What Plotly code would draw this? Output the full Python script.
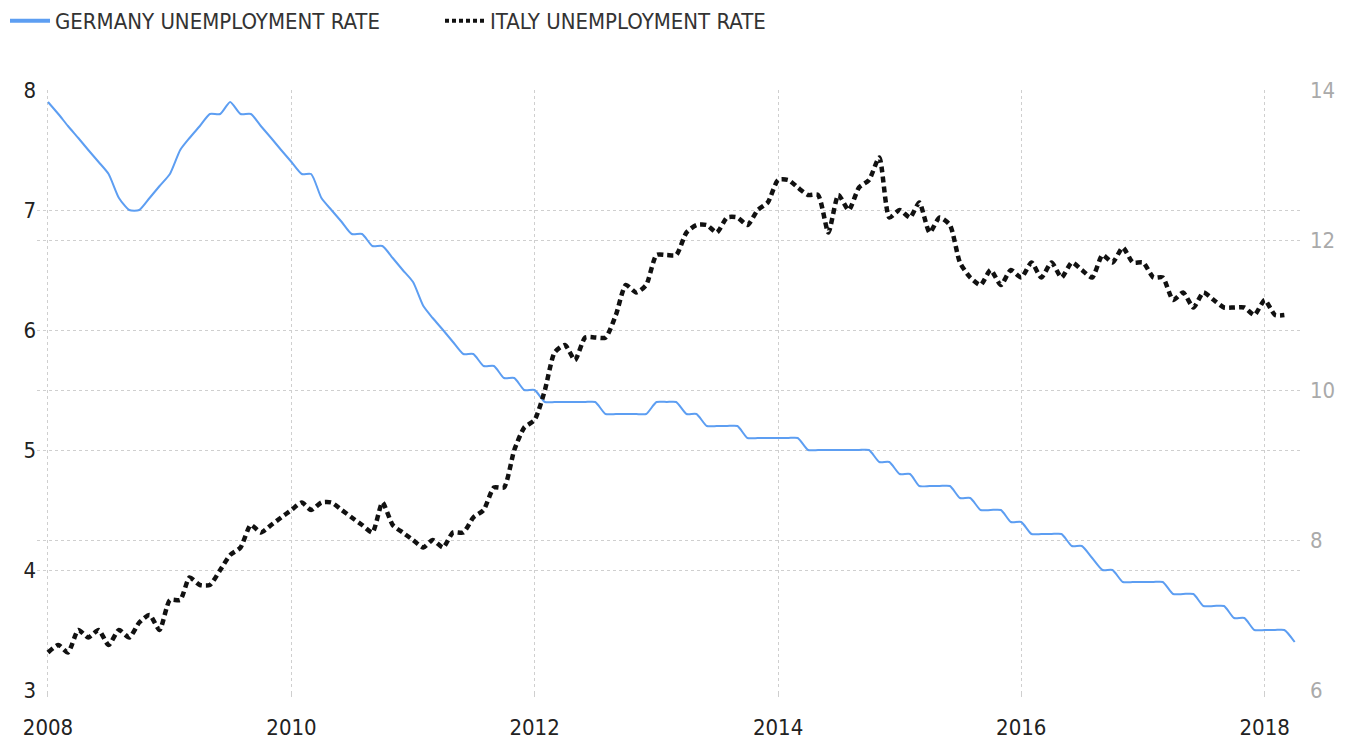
import plotly.graph_objects as go
import pandas as pd

# Germany unemployment rate (%), monthly Jan 2008 - Apr 2018 (left axis)
germany_2008 = [7.9, 7.8, 7.7, 7.6, 7.5, 7.4, 7.3, 7.1, 7.0, 7.0, 7.1, 7.2]
germany_2009 = [7.3, 7.5, 7.6, 7.7, 7.8, 7.8, 7.9, 7.8, 7.8, 7.7, 7.6, 7.5]
germany_2010 = [7.4, 7.3, 7.3, 7.1, 7.0, 6.9, 6.8, 6.8, 6.7, 6.7, 6.6, 6.5]
germany_2011 = [6.4, 6.2, 6.1, 6.0, 5.9, 5.8, 5.8, 5.7, 5.7, 5.6, 5.6, 5.5]
germany_2012 = [5.5, 5.4, 5.4, 5.4, 5.4, 5.4, 5.4, 5.3, 5.3, 5.3, 5.3, 5.3]
germany_2013 = [5.4, 5.4, 5.4, 5.3, 5.3, 5.2, 5.2, 5.2, 5.2, 5.1, 5.1, 5.1]
germany_2014 = [5.1, 5.1, 5.1, 5.0, 5.0, 5.0, 5.0, 5.0, 5.0, 5.0, 4.9, 4.9]
germany_2015 = [4.8, 4.8, 4.7, 4.7, 4.7, 4.7, 4.6, 4.6, 4.5, 4.5, 4.5, 4.4]
germany_2016 = [4.4, 4.3, 4.3, 4.3, 4.3, 4.2, 4.2, 4.1, 4.0, 4.0, 3.9, 3.9]
germany_2017 = [3.9, 3.9, 3.9, 3.8, 3.8, 3.8, 3.7, 3.7, 3.7, 3.6, 3.6, 3.5]
germany_2018 = [3.5, 3.5, 3.5, 3.4]

# Italy unemployment rate (%), monthly Jan 2008 - Mar 2018 (right axis)
italy_2008 = [6.5, 6.6, 6.5, 6.8, 6.7, 6.8, 6.6, 6.8, 6.7, 6.9, 7.0, 6.8]
italy_2009 = [7.2, 7.2, 7.5, 7.4, 7.4, 7.6, 7.8, 7.9, 8.2, 8.1, 8.2, 8.3]
italy_2010 = [8.4, 8.5, 8.4, 8.5, 8.5, 8.4, 8.3, 8.2, 8.1, 8.5, 8.2, 8.1]
italy_2011 = [8.0, 7.9, 8.0, 7.9, 8.1, 8.1, 8.3, 8.4, 8.7, 8.7, 9.2, 9.5]
italy_2012 = [9.6, 10.0, 10.5, 10.6, 10.4, 10.7, 10.7, 10.7, 11.0, 11.4, 11.3, 11.4]
italy_2013 = [11.8, 11.8, 11.8, 12.1, 12.2, 12.2, 12.1, 12.3, 12.3, 12.2, 12.4, 12.5]
italy_2014 = [12.8, 12.8, 12.7, 12.6, 12.6, 12.1, 12.6, 12.4, 12.7, 12.8, 13.1, 12.3]
italy_2015 = [12.4, 12.3, 12.5, 12.1, 12.3, 12.2, 11.7, 11.5, 11.4, 11.6, 11.4, 11.6]
italy_2016 = [11.5, 11.7, 11.5, 11.7, 11.5, 11.7, 11.6, 11.5, 11.8, 11.7, 11.9, 11.7]
italy_2017 = [11.7, 11.5, 11.5, 11.2, 11.3, 11.1, 11.3, 11.2, 11.1, 11.1, 11.1, 11.0]
italy_2018 = [11.2, 11.0, 11.0]

germany = (germany_2008 + germany_2009 + germany_2010 + germany_2011 + germany_2012
           + germany_2013 + germany_2014 + germany_2015 + germany_2016 + germany_2017
           + germany_2018)
italy = (italy_2008 + italy_2009 + italy_2010 + italy_2011 + italy_2012 + italy_2013
         + italy_2014 + italy_2015 + italy_2016 + italy_2017 + italy_2018)

dates_de = pd.date_range("2008-01-01", periods=len(germany), freq="MS")
dates_it = pd.date_range("2008-01-01", periods=len(italy), freq="MS")

FONT = "DejaVu Sans Condensed, Liberation Sans Narrow, Arial Narrow, sans-serif"
BLUE = "#5d9ef2"
GRID = "#cfcfcf"

fig = go.Figure()
fig.add_trace(go.Scatter(
    x=dates_de, y=germany, mode="lines", name="GERMANY UNEMPLOYMENT RATE",
    line=dict(color=BLUE, width=2, shape="spline", smoothing=0.6),
    showlegend=False, yaxis="y"))
fig.add_trace(go.Scatter(
    x=dates_it, y=italy, mode="lines", name="ITALY UNEMPLOYMENT RATE",
    line=dict(color="#111111", width=4.5, dash="6px,4px", shape="spline", smoothing=0.6),
    showlegend=False, yaxis="y2"))
# legend entries
fig.add_trace(go.Scatter(
    x=[None], y=[None], mode="lines", name="GERMANY UNEMPLOYMENT RATE",
    line=dict(color=BLUE, width=4), showlegend=True))
fig.add_trace(go.Scatter(
    x=[None], y=[None], mode="lines", name="ITALY UNEMPLOYMENT RATE",
    line=dict(color="#111111", width=4, dash="4px,3px"), showlegend=True))

fig.update_layout(
    width=1355, height=743,
    margin=dict(l=37, r=52, t=90, b=53, autoexpand=False),
    paper_bgcolor="white", plot_bgcolor="white",
    font=dict(family=FONT, size=22, color="#333333"),
    legend=dict(orientation="h", xref="container", yref="container",
                x=5 / 1355, y=1.0, xanchor="left", yanchor="top",
                itemwidth=40,
                font=dict(family=FONT, size=22, color="#333333"),
                entrywidth=380, bgcolor="rgba(0,0,0,0)"),
    xaxis=dict(type="date", range=["2007-11-29", "2018-04-26"],
               tick0="2008-01-01", dtick="M24", tickformat="%Y",
               showgrid=True, gridcolor=GRID, griddash="dot", gridwidth=1,
               ticks="outside", ticklen=6, tickcolor=GRID,
               ticklabelstandoff=12, automargin=False,
               showline=False, zeroline=False,
               tickfont=dict(family=FONT, size=22, color="#222222")),
    yaxis=dict(range=[3, 8], dtick=1, tick0=3, automargin=False,
               showgrid=True, gridcolor=GRID, griddash="dot", gridwidth=1,
               showline=False, zeroline=False, ticks="",
               tickfont=dict(family=FONT, size=22, color="#222222")),
    yaxis2=dict(range=[6, 14], dtick=2, tick0=6, overlaying="y", side="right",
                automargin=False,
                showgrid=True, gridcolor=GRID, griddash="dot", gridwidth=1,
                showline=False, zeroline=False, ticks="",
                ticklabelstandoff=6,
                tickfont=dict(family=FONT, size=22, color="#aaaaaa")),
)

fig.write_html("out.html", config={"displayModeBar": False},
               post_script="document.body.style.margin='0';")
